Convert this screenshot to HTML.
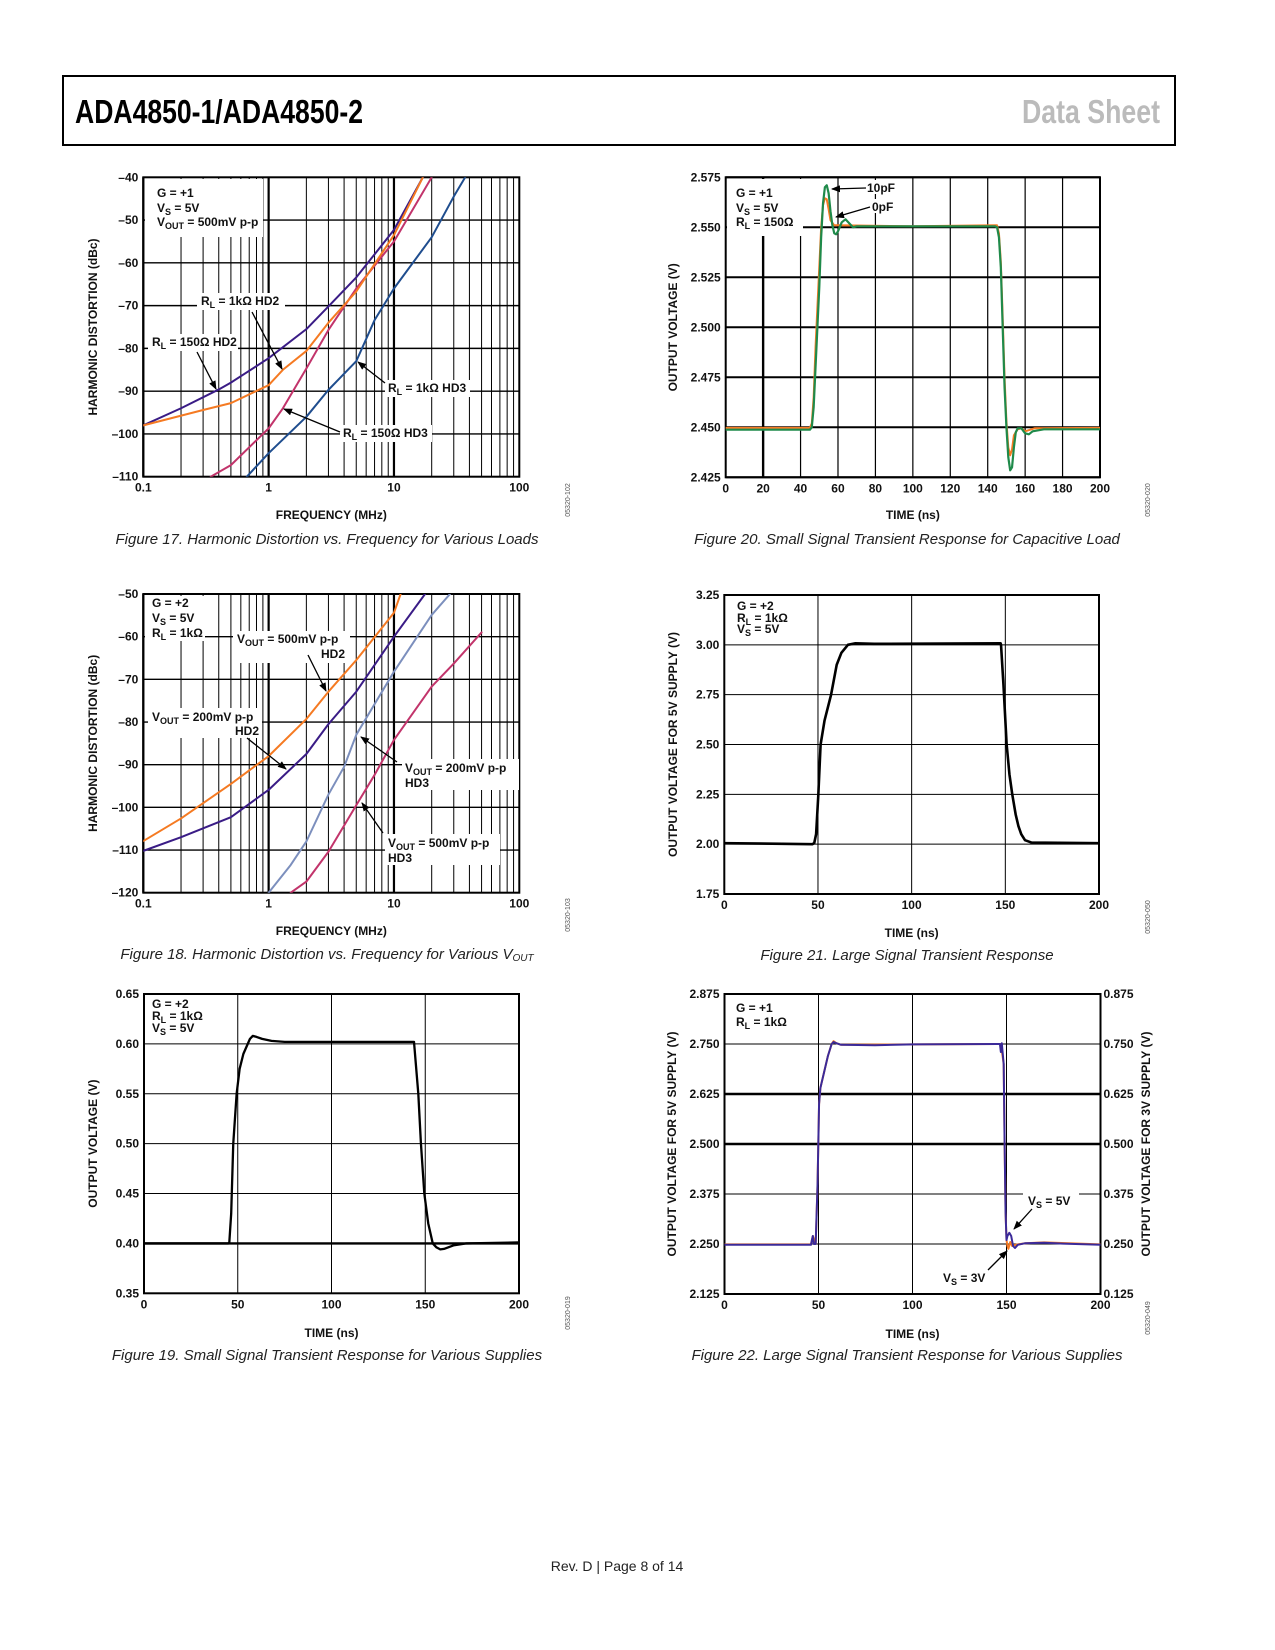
<!DOCTYPE html>
<html><head><meta charset="utf-8"><style>
html,body{margin:0;padding:0;background:#fff}
svg{display:block}
.lb{font-family:"Liberation Sans",sans-serif;font-weight:bold;font-size:12px;fill:#111}
.tk{font-family:"Liberation Sans",sans-serif;font-weight:bold;font-size:12px;fill:#111}
.ax{font-family:"Liberation Sans",sans-serif;font-weight:bold;font-size:12px;fill:#111}
.cap{font-family:"Liberation Sans",sans-serif;font-style:italic;font-size:15px;fill:#222}
.code{font-family:"Liberation Sans",sans-serif;font-size:7px;fill:#555}
.ar{stroke:#000;stroke-width:1.3;marker-end:url(#ah)}
</style></head><body>
<svg id="page" xmlns="http://www.w3.org/2000/svg" width="1275" height="1650" viewBox="0 0 1275 1650">
<defs><marker id="ah" markerWidth="9" markerHeight="7" refX="8" refY="3.5" orient="auto" markerUnits="userSpaceOnUse"><path d="M0,0 L9,3.5 L0,7 z" fill="#000"/></marker></defs>
<rect x="0" y="0" width="1275" height="1650" fill="#fff"/>
<g>
<rect x="63" y="76" width="1112" height="69" fill="none" stroke="#000" stroke-width="2"/>
<text x="75" y="123" textLength="288" lengthAdjust="spacingAndGlyphs" style="font-family:'Liberation Sans',sans-serif;font-weight:bold;font-size:33px;fill:#000">ADA4850-1/ADA4850-2</text>
<text x="1022" y="123" textLength="138" lengthAdjust="spacingAndGlyphs" style="font-family:'Liberation Sans',sans-serif;font-weight:bold;font-size:33px;fill:#bbb">Data Sheet</text>
</g>

<g id="c17"></g>
<g id="c20"></g>
<g id="c18"></g>
<g id="c21"></g>
<g id="c19"></g>
<g id="c22"></g>

<!-- Figure 17 labels -->
<g>
<rect x="145" y="179" width="118" height="58" fill="#fff"/>
<text class="lb" x="157" y="197">G = +1</text>
<text class="lb" x="157" y="212">V<tspan font-size="9" dy="3">S</tspan><tspan dy="-3"> = 5V</tspan></text>
<text class="lb" x="157" y="226">V<tspan font-size="9" dy="3">OUT</tspan><tspan dy="-3"> = 500mV p-p</tspan></text>
<rect x="197" y="293" width="88" height="17" fill="#fff"/>
<text class="lb" x="201" y="305">R<tspan font-size="9" dy="3">L</tspan><tspan dy="-3"> = 1kΩ HD2</tspan></text>
<rect x="148" y="334" width="90" height="17" fill="#fff"/>
<text class="lb" x="152" y="346">R<tspan font-size="9" dy="3">L</tspan><tspan dy="-3"> = 150Ω HD2</tspan></text>
<rect x="385" y="380" width="85" height="17" fill="#fff"/>
<text class="lb" x="388" y="392">R<tspan font-size="9" dy="3">L</tspan><tspan dy="-3"> = 1kΩ HD3</tspan></text>
<rect x="340" y="425" width="92" height="17" fill="#fff"/>
<text class="lb" x="343" y="437">R<tspan font-size="9" dy="3">L</tspan><tspan dy="-3"> = 150Ω HD3</tspan></text>
<line class="ar" x1="252" y1="312" x2="282" y2="369"/>
<line class="ar" x1="197" y1="352" x2="216" y2="389"/>
<line class="ar" x1="385" y1="383" x2="358" y2="362"/>
<line class="ar" x1="340" y1="432" x2="284" y2="409"/>
</g>

<!-- Figure 20 labels -->
<g>
<rect x="727" y="179" width="76" height="57" fill="#fff"/>
<text class="lb" x="736" y="197">G = +1</text>
<text class="lb" x="736" y="212">V<tspan font-size="9" dy="3">S</tspan><tspan dy="-3"> = 5V</tspan></text>
<text class="lb" x="736" y="226">R<tspan font-size="9" dy="3">L</tspan><tspan dy="-3"> = 150Ω</tspan></text>
<rect x="866" y="180" width="34" height="14" fill="#fff"/>
<text class="lb" x="867" y="192">10pF</text>
<rect x="870" y="199" width="28" height="14" fill="#fff"/>
<text class="lb" x="872" y="211">0pF</text>
<line class="ar" x1="866" y1="188" x2="832" y2="189"/>
<line class="ar" x1="870" y1="207" x2="836" y2="217"/>
</g>

<!-- Figure 18 labels -->
<g>
<rect x="145" y="596" width="60" height="45" fill="#fff"/>
<text class="lb" x="152" y="607">G = +2</text>
<text class="lb" x="152" y="622">V<tspan font-size="9" dy="3">S</tspan><tspan dy="-3"> = 5V</tspan></text>
<text class="lb" x="152" y="637">R<tspan font-size="9" dy="3">L</tspan><tspan dy="-3"> = 1kΩ</tspan></text>
<rect x="233" y="631" width="117" height="32" fill="#fff"/>
<text class="lb" x="237" y="643">V<tspan font-size="9" dy="3">OUT</tspan><tspan dy="-3"> = 500mV p-p</tspan></text>
<text class="lb" x="345" y="658" text-anchor="end">HD2</text>
<rect x="148" y="708" width="114" height="30" fill="#fff"/>
<text class="lb" x="152" y="721">V<tspan font-size="9" dy="3">OUT</tspan><tspan dy="-3"> = 200mV p-p</tspan></text>
<text class="lb" x="259" y="735" text-anchor="end">HD2</text>
<rect x="402" y="759" width="117" height="31" fill="#fff"/>
<text class="lb" x="405" y="772">V<tspan font-size="9" dy="3">OUT</tspan><tspan dy="-3"> = 200mV p-p</tspan></text>
<text class="lb" x="405" y="787">HD3</text>
<rect x="385" y="834" width="115" height="31" fill="#fff"/>
<text class="lb" x="388" y="847">V<tspan font-size="9" dy="3">OUT</tspan><tspan dy="-3"> = 500mV p-p</tspan></text>
<text class="lb" x="388" y="862">HD3</text>
<line class="ar" x1="308" y1="655" x2="326" y2="691"/>
<line class="ar" x1="247" y1="738" x2="286" y2="769"/>
<line class="ar" x1="397" y1="762" x2="361" y2="737"/>
<line class="ar" x1="383" y1="833" x2="362" y2="803"/>
</g>

<!-- Figure 21 labels -->
<g>
<text class="lb" x="737" y="610">G = +2</text>
<text class="lb" x="737" y="622">R<tspan font-size="9" dy="3">L</tspan><tspan dy="-3"> = 1kΩ</tspan></text>
<text class="lb" x="737" y="633">V<tspan font-size="9" dy="3">S</tspan><tspan dy="-3"> = 5V</tspan></text>
</g>

<!-- Figure 19 labels -->
<g>
<text class="lb" x="152" y="1008">G = +2</text>
<text class="lb" x="152" y="1020">R<tspan font-size="9" dy="3">L</tspan><tspan dy="-3"> = 1kΩ</tspan></text>
<text class="lb" x="152" y="1032">V<tspan font-size="9" dy="3">S</tspan><tspan dy="-3"> = 5V</tspan></text>
</g>

<!-- Figure 22 labels -->
<g>
<text class="lb" x="736" y="1012">G = +1</text>
<text class="lb" x="736" y="1026">R<tspan font-size="9" dy="3">L</tspan><tspan dy="-3"> = 1kΩ</tspan></text>
<rect x="1023" y="1191" width="56" height="18" fill="#fff"/>
<text class="lb" x="1028" y="1205">V<tspan font-size="9" dy="3">S</tspan><tspan dy="-3"> = 5V</tspan></text>
<text class="lb" x="943" y="1282">V<tspan font-size="9" dy="3">S</tspan><tspan dy="-3"> = 3V</tspan></text>
<line class="ar" x1="1032" y1="1209" x2="1014" y2="1229"/>
<line class="ar" x1="988" y1="1270" x2="1007" y2="1251"/>
</g>

<g>
<text class="cap" x="327" y="544" text-anchor="middle">Figure 17. Harmonic Distortion vs. Frequency for Various Loads</text>
<text class="cap" x="907" y="544" text-anchor="middle">Figure 20. Small Signal Transient Response for Capacitive Load</text>
<text class="cap" x="327" y="959" text-anchor="middle">Figure 18. Harmonic Distortion vs. Frequency for Various V<tspan font-size="10" dy="2">OUT</tspan></text>
<text class="cap" x="907" y="960" text-anchor="middle">Figure 21. Large Signal Transient Response</text>
<text class="cap" x="327" y="1360" text-anchor="middle">Figure 19. Small Signal Transient Response for Various Supplies</text>
<text class="cap" x="907" y="1360" text-anchor="middle">Figure 22. Large Signal Transient Response for Various Supplies</text>
</g>
<g>
<text class="code" transform="translate(570,500) rotate(-90)" text-anchor="middle">05320-102</text>
<text class="code" transform="translate(1150,500) rotate(-90)" text-anchor="middle">05320-020</text>
<text class="code" transform="translate(570,915) rotate(-90)" text-anchor="middle">05320-103</text>
<text class="code" transform="translate(1150,917) rotate(-90)" text-anchor="middle">05320-050</text>
<text class="code" transform="translate(570,1313) rotate(-90)" text-anchor="middle">05320-019</text>
<text class="code" transform="translate(1150,1318) rotate(-90)" text-anchor="middle">05320-049</text>
</g>
<text x="617" y="1571" text-anchor="middle" style="font-family:'Liberation Sans',sans-serif;font-size:14px;fill:#222">Rev. D | Page 8 of 14</text>
</svg>
<script>
const NS="http://www.w3.org/2000/svg";
// ---------- Figure 17 data ----------
const f17_hd2_150_f=[0.1,0.2,0.4,0.5,1,2,3,5,10,17];
const f17_hd2_150_db=[-98,-94,-89.6,-88,-82.3,-75.5,-70.2,-63.4,-52.3,-40];
const f17_hd2_1k_f=[0.1,0.3,0.5,1,1.3,2,3,5,10,17];
const f17_hd2_1k_db=[-98,-94.4,-92.8,-88.6,-85,-80.6,-74,-66.7,-53.5,-40];
const f17_hd3_150_f=[0.345,0.5,1,1.3,2,3,5,10,20];
const f17_hd3_150_db=[-110,-107.3,-98.7,-94,-84.7,-75.7,-66,-55,-40];
const f17_hd3_1k_f=[0.67,1,2,3,5,7,10,20,30,37];
const f17_hd3_1k_db=[-110,-104.5,-96,-89.7,-83,-73.4,-66,-54,-44.5,-40];
const f17_yticks=[-40,-50,-60,-70,-80,-90,-100,-110];
const f17_ylabels=["–40","–50","–60","–70","–80","–90","–100","–110"];
// ---------- Figure 18 data ----------
const f18_hd2_500_f=[0.1,0.2,0.5,1,2,3,5,10,11.3];
const f18_hd2_500_db=[-107.9,-102.6,-94.5,-88,-79.3,-72.9,-65.5,-54.4,-50];
const f18_hd2_200_f=[0.1,0.2,0.5,1,2,3,5,10,17.7];
const f18_hd2_200_db=[-110.2,-107,-102.3,-95.9,-87.5,-80.5,-72.9,-60,-50];
const f18_hd3_200_f=[1,1.5,2,3,4,5,10,20,28];
const f18_hd3_200_db=[-120,-113.5,-108,-97,-90.5,-83,-68.2,-54.9,-50];
const f18_hd3_500_f=[1.5,2,3,5,7,10,20,30,50];
const f18_hd3_500_db=[-120,-117.4,-110.4,-99.5,-92.4,-84.2,-71.7,-66.3,-59];
const f18_yticks=[-50,-60,-70,-80,-90,-100,-110,-120];
const f18_ylabels=["–50","–60","–70","–80","–90","–100","–110","–120"];
const log_xticks=[0.1,1,10,100];
const log_xlabels=["0.1","1","10","100"];
// ---------- Figure 20 data ----------
const f20_10pF_t=[0,20,45,46,47,48,50,51,52,53,54,55,56,57,58,59,60,62,64,66,68,70,100,144,145,146,147,148,149,150,151,152,153,154,155,156,158,160,162,164,170,200];
const f20_10pF_v=[2.4488,2.4488,2.4488,2.450,2.46,2.48,2.52,2.545,2.562,2.570,2.571,2.567,2.558,2.551,2.547,2.5465,2.548,2.5525,2.554,2.552,2.550,2.5505,2.5505,2.5505,2.550,2.545,2.53,2.50,2.47,2.45,2.435,2.4285,2.430,2.44,2.4475,2.4495,2.4495,2.447,2.4465,2.448,2.449,2.449];
const f20_0pF_t=[0,45,46,47,48,50,51,52,53,54,55,56,58,60,100,145,146,147,148,149,150,151,152,153,154,156,158,160,165,200];
const f20_0pF_v=[2.4497,2.4497,2.452,2.465,2.49,2.53,2.55,2.561,2.5645,2.564,2.559,2.5535,2.551,2.551,2.5505,2.551,2.547,2.533,2.505,2.475,2.453,2.440,2.436,2.439,2.446,2.449,2.4495,2.448,2.4495,2.4497];
const f20_xticks=[0,20,40,60,80,100,120,140,160,180,200];
const f20_yticks=[2.425,2.45,2.475,2.5,2.525,2.55,2.575];
const f20_ylabels=["2.425","2.450","2.475","2.500","2.525","2.550","2.575"];
// ---------- Figure 21 data ----------
const f21_t=[0,47,48,49,50.2,51.4,53.5,57,60,62.5,66,70,80,147.5,147.7,149,150.7,152.2,153.7,155.5,157,158.5,160.5,164,200];
const f21_v=[2.005,2.0,2.005,2.05,2.25,2.5,2.62,2.75,2.9,2.96,3.0,3.008,3.005,3.008,3.0,2.8,2.5,2.35,2.25,2.15,2.09,2.05,2.02,2.008,2.005];
const trans_xticks=[0,50,100,150,200];
const f21_yticks=[1.75,2.0,2.25,2.5,2.75,3.0,3.25];
const f21_ylabels=["1.75","2.00","2.25","2.50","2.75","3.00","3.25"];
// ---------- Figure 19 data ----------
const f19_t=[0,45,45.5,46.5,47.6,49.4,51,53,56.5,58,60,63,68,75,144,146.3,147.7,149.5,151.6,154,156,158,160,165,172,200];
const f19_v=[0.400,0.400,0.401,0.43,0.50,0.55,0.575,0.59,0.605,0.608,0.607,0.605,0.603,0.602,0.602,0.55,0.50,0.45,0.42,0.40,0.396,0.394,0.3945,0.398,0.400,0.401];
const f19_yticks=[0.35,0.4,0.45,0.5,0.55,0.6,0.65];
const f19_ylabels=["0.35","0.40","0.45","0.50","0.55","0.60","0.65"];
// ---------- Figure 22 data ----------
const f22_5v_t=[0,46,46.5,47,47.5,48.5,49.5,50.3,51,53,55,57,58,59.5,62,80,100,145,146.5,147,147.5,148.5,149,149.5,150,150.5,151.5,152.5,153.5,154.5,156,160,170,180,200];
const f22_5v_v=[2.248,2.248,2.26,2.27,2.25,2.25,2.40,2.60,2.64,2.68,2.72,2.75,2.755,2.752,2.748,2.747,2.749,2.75,2.75,2.73,2.752,2.70,2.50,2.33,2.26,2.27,2.278,2.27,2.245,2.24,2.248,2.252,2.253,2.251,2.248];
const f22_3v_t=[0,46,47,48.5,49.5,50.3,51,53,55,57,58,59.5,62,100,145,147,148.5,149,149.5,150,150.5,151,152,153,154,156,160,170,200];
const f22_3v_v=[0.249,0.249,0.27,0.25,0.40,0.60,0.64,0.68,0.72,0.75,0.757,0.752,0.748,0.749,0.75,0.75,0.70,0.50,0.33,0.26,0.245,0.238,0.255,0.245,0.247,0.249,0.252,0.254,0.249];
const f22_yticks=[2.125,2.25,2.375,2.5,2.625,2.75,2.875];
const f22_ylabels=["2.125","2.250","2.375","2.500","2.625","2.750","2.875"];
const f22_rlabels=["0.125","0.250","0.375","0.500","0.625","0.750","0.875"];

function mk(tag,attrs,name,parent,txt){
  const el=document.createElementNS(NS,tag);
  for(const k in attrs) el.setAttribute(k,attrs[k]);
  
  
  if(txt!==undefined) el.textContent=txt;
  parent.appendChild(el);
  return el;
}
function makeAxes(c){
  c.sx = c.log ? (v=>c.x0+(Math.log10(v)-Math.log10(c.xmin))/(Math.log10(c.xmax)-Math.log10(c.xmin))*(c.x1-c.x0))
               : (v=>c.x0+(v-c.xmin)/(c.xmax-c.xmin)*(c.x1-c.x0));
  c.sy = v=>c.y1-(v-c.ymin)/(c.ymax-c.ymin)*(c.y1-c.y0);
  return c;
}
function drawFrame(c){
  const g=c.g;
  mk('rect',{x:c.x0,y:c.y0,width:c.x1-c.x0,height:c.y1-c.y0,fill:'#fff'},'plot-area',g);
  if(c.log){
    let d=c.xmin;
    while(d<c.xmax){
      for(let k=1;k<10;k++){const v=d*k;const x=c.sx(v);
        mk('line',{x1:x,y1:c.y0,x2:x,y2:c.y1,stroke:'#000','stroke-width':k===1?2.2:1},'x-gridline',g);}
      d*=10;
    }
  } else {
    c.xticks.forEach(v=>{const x=c.sx(v);
      mk('line',{x1:x,y1:c.y0,x2:x,y2:c.y1,stroke:'#000','stroke-width':(c.thickX&&c.thickX.includes(v))?2.4:c.vw},'x-gridline',g);});
  }
  c.yticks.forEach(v=>{const y=c.sy(v);
    mk('line',{x1:c.x0,y1:y,x2:c.x1,y2:y,stroke:'#000','stroke-width':(c.thickY&&c.thickY.includes(v))?2.4:c.hw},'y-gridline',g);});
  mk('rect',{x:c.x0,y:c.y0,width:c.x1-c.x0,height:c.y1-c.y0,fill:'none',stroke:'#000','stroke-width':2},'plot-border',g);
  c.xticks.forEach((v,i)=>{
    mk('text',{x:c.sx(v),y:c.y1+15,'text-anchor':'middle',class:'tk'},'x-tick-label',g,c.xlabels[i]);});
  c.yticks.forEach((v,i)=>{
    mk('text',{x:c.x0-5,y:c.sy(v)+4,'text-anchor':'end',class:'tk'},'y-tick-label',g,c.ylabels[i]);});
  if(c.rlabels) c.yticks.forEach((v,i)=>{
    mk('text',{x:c.x1+3,y:c.sy(v)+4,'text-anchor':'start',class:'tk'},'right-y-tick-label',g,c.rlabels[i]);});
  mk('text',{x:(c.x0+c.x1)/2,y:c.xtY,'text-anchor':'middle',class:'ax'},'x-axis-title',g,c.xtitle);
  const cy=(c.y0+c.y1)/2;
  mk('text',{transform:`translate(${c.ytX},${cy}) rotate(-90)`,'text-anchor':'middle',class:'ax'},'y-axis-title',g,c.ytitle);
  if(c.rtitle) mk('text',{transform:`translate(${c.rtX},${cy}) rotate(-90)`,'text-anchor':'middle',class:'ax'},'right-y-axis-title',g,c.rtitle);
}
function series(c,xs,ys,color,w,name,off){
  off=off||0;
  const pts=xs.map((x,i)=>c.sx(x).toFixed(2)+','+c.sy(ys[i]+off).toFixed(2)).join(' ');
  mk('polyline',{points:pts,fill:'none',stroke:color,'stroke-width':w,'stroke-linejoin':'round','stroke-linecap':'round'},name,c.g);
}
function clipTo(c){
  const id='clip'+c.g.id;
  const cp=mk('clipPath',{id:id},'clip',c.g);
  mk('rect',{x:c.x0,y:c.y0,width:c.x1-c.x0,height:c.y1-c.y0},'clip-rect',cp);
  const sg=mk('g',{'clip-path':`url(#${id})`},'series-group',c.g);
  return Object.assign({},c,{g:sg});
}
const PURP='#3a1c86',ORNG='#f57a22',MAG='#c2346b',BLUE='#1f4d8e',LBLUE='#7c8fbd',GRN='#1f8a4a';

// Figure 17
let c17=makeAxes({g:document.getElementById('c17'),x0:143.3,x1:519.3,y0:177.3,y1:476.7,log:true,xmin:0.1,xmax:100,ymin:-110,ymax:-40,
  xticks:log_xticks,xlabels:log_xlabels,yticks:f17_yticks,ylabels:f17_ylabels,hw:1.4,xtitle:'FREQUENCY (MHz)',xtY:519,ytitle:'HARMONIC DISTORTION (dBc)',ytX:97});
drawFrame(c17);
let s17=clipTo(c17);
series(s17,f17_hd3_1k_f,f17_hd3_1k_db,BLUE,2,'rl-1k-hd3-line');
series(s17,f17_hd3_150_f,f17_hd3_150_db,MAG,2,'rl-150-hd3-line');
series(s17,f17_hd2_150_f,f17_hd2_150_db,PURP,2,'rl-150-hd2-line');
series(s17,f17_hd2_1k_f,f17_hd2_1k_db,ORNG,2,'rl-1k-hd2-line');

// Figure 18
let c18=makeAxes({g:document.getElementById('c18'),x0:143.3,x1:519.3,y0:594,y1:892.7,log:true,xmin:0.1,xmax:100,ymin:-120,ymax:-50,
  xticks:log_xticks,xlabels:log_xlabels,yticks:f18_yticks,ylabels:f18_ylabels,hw:1.4,xtitle:'FREQUENCY (MHz)',xtY:935,ytitle:'HARMONIC DISTORTION (dBc)',ytX:97});
drawFrame(c18);
let s18=clipTo(c18);
series(s18,f18_hd3_500_f,f18_hd3_500_db,MAG,2,'vout-500-hd3-line');
series(s18,f18_hd3_200_f,f18_hd3_200_db,LBLUE,2,'vout-200-hd3-line');
series(s18,f18_hd2_200_f,f18_hd2_200_db,PURP,2,'vout-200-hd2-line');
series(s18,f18_hd2_500_f,f18_hd2_500_db,ORNG,2,'vout-500-hd2-line');

// Figure 20
let c20=makeAxes({g:document.getElementById('c20'),x0:725.7,x1:1100,y0:177.3,y1:477.3,log:false,xmin:0,xmax:200,ymin:2.425,ymax:2.575,
  xticks:f20_xticks,xlabels:f20_xticks.map(String),yticks:f20_yticks,ylabels:f20_ylabels,hw:2,vw:1.2,thickX:[20],
  xtitle:'TIME (ns)',xtY:519,ytitle:'OUTPUT VOLTAGE (V)',ytX:677});
drawFrame(c20);
let s20=clipTo(c20);
series(s20,f20_0pF_t,f20_0pF_v,ORNG,2,'0pF-trace');
series(s20,f20_10pF_t,f20_10pF_v,GRN,2.2,'10pF-trace');

// Figure 21
let c21=makeAxes({g:document.getElementById('c21'),x0:724.3,x1:1099,y0:595,y1:894,log:false,xmin:0,xmax:200,ymin:1.75,ymax:3.25,
  xticks:trans_xticks,xlabels:trans_xticks.map(String),yticks:f21_yticks,ylabels:f21_ylabels,hw:1,vw:1,
  xtitle:'TIME (ns)',xtY:937,ytitle:'OUTPUT VOLTAGE FOR 5V SUPPLY (V)',ytX:677});
drawFrame(c21);
let s21=clipTo(c21);
series(s21,f21_t,f21_v,'#000',2.6,'large-signal-trace');

// Figure 19
let c19=makeAxes({g:document.getElementById('c19'),x0:144,x1:519,y0:994,y1:1293.3,log:false,xmin:0,xmax:200,ymin:0.35,ymax:0.65,
  xticks:trans_xticks,xlabels:trans_xticks.map(String),yticks:f19_yticks,ylabels:f19_ylabels,hw:1,vw:1,thickY:[0.4],
  xtitle:'TIME (ns)',xtY:1337,ytitle:'OUTPUT VOLTAGE (V)',ytX:97});
drawFrame(c19);
let s19=clipTo(c19);
series(s19,f19_t,f19_v,'#000',2.3,'small-signal-trace');

// Figure 22
let c22=makeAxes({g:document.getElementById('c22'),x0:724.5,x1:1100.5,y0:994,y1:1294,log:false,xmin:0,xmax:200,ymin:2.125,ymax:2.875,
  xticks:trans_xticks,xlabels:trans_xticks.map(String),yticks:f22_yticks,ylabels:f22_ylabels,rlabels:f22_rlabels,hw:1,vw:1,thickY:[2.5,2.625],
  xtitle:'TIME (ns)',xtY:1338,ytitle:'OUTPUT VOLTAGE FOR 5V SUPPLY (V)',ytX:676,rtitle:'OUTPUT VOLTAGE FOR 3V SUPPLY (V)',rtX:1150});
drawFrame(c22);
let s22=clipTo(c22);
series(s22,f22_3v_t,f22_3v_v,ORNG,2,'vs-3v-trace',2.0);
series(s22,f22_5v_t,f22_5v_v,'#3b2a99',2,'vs-5v-trace');
</script>
</body></html>
